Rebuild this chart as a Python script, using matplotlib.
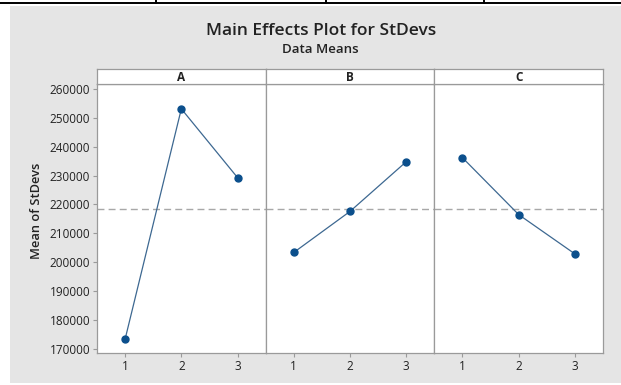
import numpy as np
import matplotlib
matplotlib.use("Agg")
from matplotlib import pyplot as plt
from matplotlib.patches import Rectangle
from matplotlib.lines import Line2D

plt.rcParams["font.family"] = ["Open Sans", "DejaVu Sans"]

# Factor levels and the mean of StDevs at each level
factors = ["A", "B", "C"]
levels = [1, 2, 3]
meansA = [173400, 253100, 229300]
meansB = [203400, 217600, 234800]
meansC = [236200, 216500, 202900]
yticks = [170000, 180000, 190000, 200000, 210000, 220000, 230000, 240000, 250000, 260000]

allMeans = [meansA, meansB, meansC]
grandMean = np.mean(np.concatenate(allMeans))

W, H = 621, 385
fig = plt.figure(figsize=(W / 100, H / 100), dpi=100)
fig.patch.set_facecolor("white")

# grey backdrop behind the whole plot
fig.patches.append(Rectangle((10 / W, 2 / H), 1 - 10 / W, (383 - 6) / H,
                             transform=fig.transFigure, facecolor="#e5e5e5",
                             edgecolor="none", zorder=-10))

# bits of the table border above the graph
fig.add_artist(Line2D([0, 1], [1 - 3 / H, 1 - 3 / H], transform=fig.transFigure,
                      color="black", lw=1.4))
for xl in [156, 326, 484]:
  fig.add_artist(Line2D([xl / W, xl / W], [1, 1 - 3 / H], transform=fig.transFigure,
                        color="black", lw=1.4))

fig.text(321 / W, 1 - 35 / H, "Main Effects Plot for StDevs", ha="center", va="baseline",
         fontsize=12.5, fontweight="semibold", color="#222222")
fig.text(320 / W, 1 - 53 / H, "Data Means", ha="center", va="baseline",
         fontsize=9.5, fontweight="semibold", color="#222222")

left, top, bottom = 97, 84, 353
panelW = (603 - 97) / 3
edge = "#9a9a9a"
lineColor = "#3d6891"
markerColor = "#0b4f8c"
tickSize = 8.5

for i, (name, vals) in enumerate(zip(factors, allMeans)):
  x0 = left + i * panelW
  ax = fig.add_axes([x0 / W, 1 - bottom / H, panelW / W, (bottom - top) / H])
  ax.set_facecolor("white")
  ax.axhline(grandMean, color="#a8a8a8", lw=1.0, ls=(0, (5, 3)), zorder=1)
  ax.plot(levels, vals, color=lineColor, lw=0.9, zorder=2)
  ax.plot(levels, vals, "o", color=markerColor, markersize=5, zorder=3)
  ax.set_xlim(0.5, 3.5)
  ax.set_ylim(168600, 261700)
  ax.set_xticks(levels)
  ax.set_xticklabels([str(l) for l in levels], fontsize=tickSize, color="#222222")
  for s in ax.spines.values():
    s.set_color(edge)
    s.set_linewidth(0.9)
  ax.tick_params(axis="x", length=3, width=0.8, color=edge, pad=2)
  if i == 0:
    ax.set_yticks(yticks)
    ax.set_yticklabels([str(t) for t in yticks], fontsize=tickSize, color="#222222")
    ax.tick_params(axis="y", length=3, width=0.8, color=edge, pad=2)
  else:
    ax.set_yticks([])

  # factor name strip on top of each panel
  strip = fig.add_axes([x0 / W, 1 - top / H, panelW / W, 15 / H])
  strip.set_facecolor("white")
  strip.set_xticks([])
  strip.set_yticks([])
  for s in strip.spines.values():
    s.set_color(edge)
    s.set_linewidth(0.9)
  strip.text(0.5, 0.45, name, transform=strip.transAxes, ha="center", va="center",
             fontsize=8.5, fontweight="bold", color="#222222")

fig.text(36 / W, 1 - 211 / H, "Mean of StDevs", rotation=90, ha="center", va="center",
         fontsize=9.3, fontweight="semibold", color="#222222")

fig.savefig("out.png", dpi=100, facecolor=fig.get_facecolor())
